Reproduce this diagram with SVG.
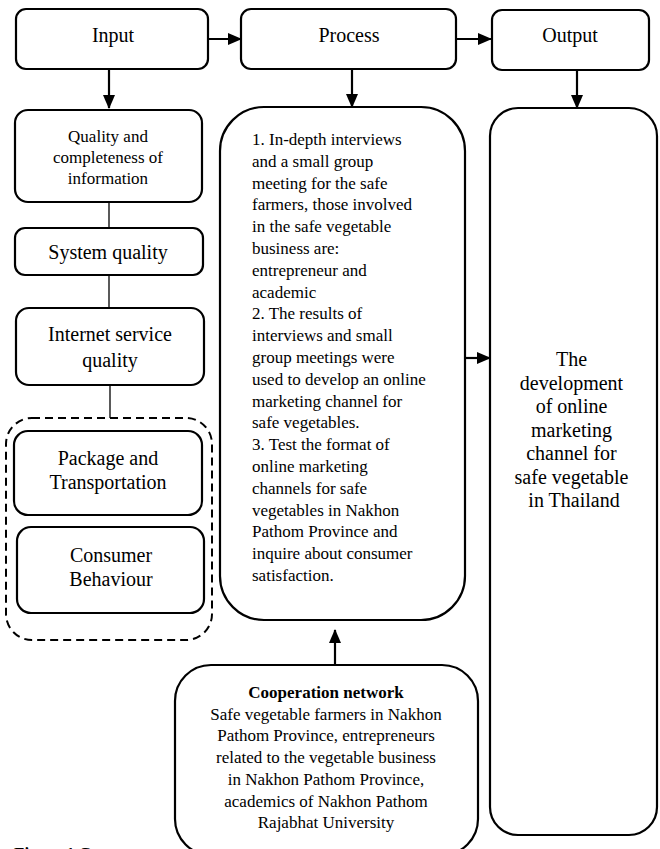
<svg xmlns="http://www.w3.org/2000/svg" width="660" height="849" viewBox="0 0 660 849">
  <style>
    .box { fill: #fff; stroke: #000; stroke-width: 2.2; }
    .dash { fill: none; stroke: #000; stroke-width: 2; stroke-dasharray: 8 5; }
    .link { stroke: #000; stroke-width: 1.3; fill: none; }
    .arrow { stroke: #000; stroke-width: 2.2; fill: none; marker-end: url(#head); }
    text { font-family: "Liberation Serif", "Times New Roman", serif; fill: #000; }
    .title { font-size: 20px; text-anchor: middle; }
    .mid { font-size: 20px; text-anchor: middle; }
    .small { font-size: 17px; text-anchor: middle; }
    .body { font-size: 17px; }
  </style>
  <defs>
    <marker id="head" viewBox="0 0 14 12" refX="13" refY="6" markerWidth="14" markerHeight="12" markerUnits="userSpaceOnUse" orient="auto">
      <path d="M0,0 L14,6 L0,12 Z" fill="#000"/>
    </marker>
  </defs>

  <!-- connectors -->
  <g id="connectors">
    <line class="arrow" x1="208" y1="39" x2="241" y2="39"/>
    <line class="arrow" x1="456" y1="39" x2="491" y2="39"/>
    <line class="arrow" x1="109" y1="69" x2="109" y2="108"/>
    <line class="arrow" x1="352" y1="69" x2="352" y2="107"/>
    <line class="arrow" x1="577" y1="70" x2="577" y2="108"/>
    <line class="arrow" x1="465" y1="358" x2="490" y2="358"/>
    <line class="arrow" x1="335" y1="665" x2="335" y2="630"/>
    <line class="link" x1="109" y1="202" x2="109" y2="228"/>
    <line class="link" x1="109" y1="275" x2="109" y2="308"/>
    <line class="link" x1="110" y1="385" x2="110" y2="418"/>
  </g>

  <!-- top row -->
  <g id="input">
    <rect class="box" x="16" y="9" width="192" height="60" rx="10"/>
    <text class="title" x="113" y="42">Input</text>
  </g>
  <g id="process">
    <rect class="box" x="241" y="9" width="215" height="60" rx="10"/>
    <text class="title" x="349" y="42">Process</text>
  </g>
  <g id="output">
    <rect class="box" x="492" y="10" width="157" height="60" rx="10"/>
    <text class="title" x="570" y="42">Output</text>
  </g>

  <!-- input column -->
  <g id="info-quality">
    <rect class="box" x="15" y="110" width="187" height="92" rx="13"/>
    <text class="small" x="108" y="142">Quality and</text>
    <text class="small" x="108" y="163">completeness of</text>
    <text class="small" x="108" y="184">information</text>
  </g>
  <g id="system-quality">
    <rect class="box" x="15" y="228" width="188" height="47" rx="10"/>
    <text class="mid" x="108" y="259">System quality</text>
  </g>
  <g id="internet-quality">
    <rect class="box" x="16" y="308" width="188" height="77" rx="13"/>
    <text class="mid" x="110" y="341">Internet service</text>
    <text class="mid" x="110" y="367">quality</text>
  </g>
  <g id="extra-factors">
    <rect class="dash" x="6" y="418" width="206" height="222" rx="26"/>
  </g>
  <g id="package">
    <rect class="box" x="14" y="431" width="188" height="84" rx="14"/>
    <text class="mid" x="108" y="465">Package and</text>
    <text class="mid" x="108" y="489">Transportation</text>
  </g>
  <g id="consumer">
    <rect class="box" x="17" y="527" width="187" height="86" rx="14"/>
    <text class="mid" x="111" y="562">Consumer</text>
    <text class="mid" x="111" y="586">Behaviour</text>
  </g>

  <!-- process detail -->
  <g id="process-steps">
    <rect class="box" x="220" y="107" width="245" height="513" rx="44"/>
    <text class="body" x="252">
      <tspan x="252" y="145">1. In-depth interviews</tspan>
      <tspan x="252" y="166.8">and a small group</tspan>
      <tspan x="252" y="188.6">meeting for the safe</tspan>
      <tspan x="252" y="210.4">farmers, those involved</tspan>
      <tspan x="252" y="232.2">in the safe vegetable</tspan>
      <tspan x="252" y="254">business are:</tspan>
      <tspan x="252" y="275.8">entrepreneur and</tspan>
      <tspan x="252" y="297.6">academic</tspan>
      <tspan x="252" y="319.4">2. The results of</tspan>
      <tspan x="252" y="341.2">interviews and small</tspan>
      <tspan x="252" y="363">group meetings were</tspan>
      <tspan x="252" y="384.8">used to develop an online</tspan>
      <tspan x="252" y="406.6">marketing channel for</tspan>
      <tspan x="252" y="428.4">safe vegetables.</tspan>
      <tspan x="252" y="450.2">3. Test the format of</tspan>
      <tspan x="252" y="472">online marketing</tspan>
      <tspan x="252" y="493.8">channels for safe</tspan>
      <tspan x="252" y="515.6">vegetables in Nakhon</tspan>
      <tspan x="252" y="537.4">Pathom Province and</tspan>
      <tspan x="252" y="559.2">inquire about consumer</tspan>
      <tspan x="252" y="581">satisfaction.</tspan>
    </text>
  </g>

  <!-- output detail -->
  <g id="output-result">
    <rect class="box" x="490" y="108" width="167" height="727" rx="28"/>
    <text class="mid" x="574">
      <tspan x="574" y="366">The</tspan>
      <tspan x="574" y="389.5">development</tspan>
      <tspan x="574" y="413">of online</tspan>
      <tspan x="574" y="436.5">marketing</tspan>
      <tspan x="574" y="460">channel for</tspan>
      <tspan x="574" y="483.5">safe vegetable</tspan>
      <tspan x="574" y="507">in Thailand</tspan>
    </text>
  </g>

  <!-- cooperation network -->
  <g id="cooperation">
    <rect class="box" x="175" y="665" width="303" height="190" rx="36"/>
    <text class="small" x="326" y="698" font-weight="bold">Cooperation network</text>
    <text class="small" x="326" y="719.7">Safe vegetable farmers in Nakhon</text>
    <text class="small" x="326" y="741.4">Pathom Province, entrepreneurs</text>
    <text class="small" x="326" y="763.1">related to the vegetable business</text>
    <text class="small" x="326" y="784.8">in Nakhon Pathom Province,</text>
    <text class="small" x="326" y="806.5">academics of Nakhon  Pathom</text>
    <text class="small" x="326" y="828.2">Rajabhat University</text>
  </g>

  <text x="14" y="859" font-size="17" font-weight="bold">Figure 1 C</text>
</svg>
